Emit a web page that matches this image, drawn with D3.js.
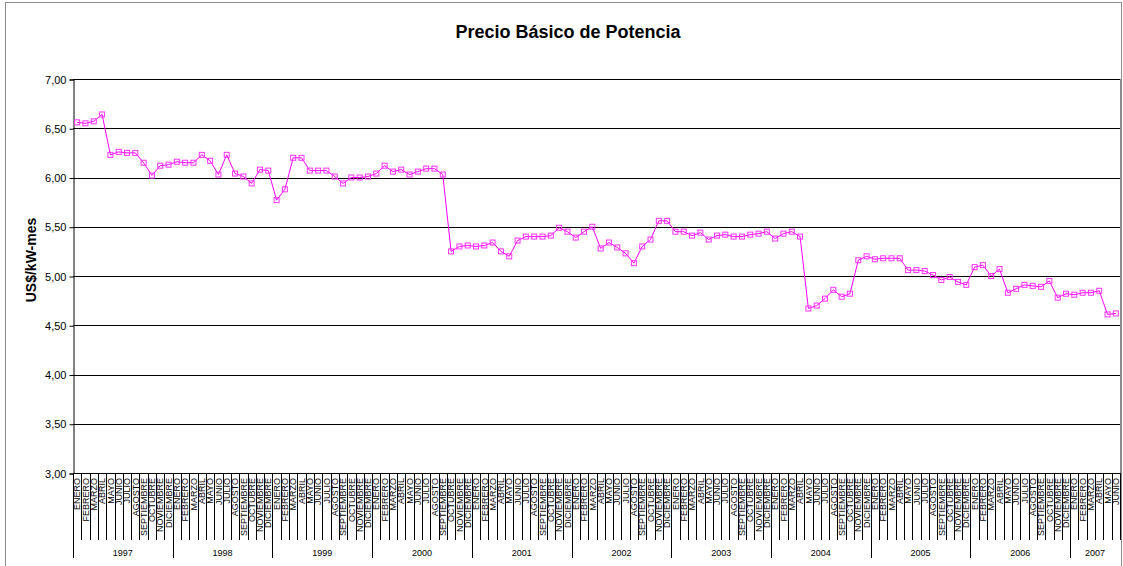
<!DOCTYPE html>
<html>
<head>
<meta charset="utf-8">
<script src="https://cdn.jsdelivr.net/npm/d3@7"></script>
<style>
  body { margin: 0; background: #fff; }
  text { font-family: "Liberation Sans", Arial, sans-serif; }
</style>
</head>
<body>
<script>
// months and years used for the two-level category axis
var meses = ["ENERO", "FEBRERO", "MARZO", "ABRIL", "MAYO", "JUNIO", "JULIO",
  "AGOSTO", "SEPTIEMBRE", "OCTUBRE", "NOVIEMBRE", "DICIEMBRE"];
var anios = [1997, 1998, 1999, 2000, 2001, 2002, 2003, 2004, 2005, 2006, 2007];

// monthly price, Enero 1997 .. Junio 2007
var precios = [
  6.56, 6.55, 6.57, 6.64, 6.23, 6.26, 6.25, 6.25, 6.15, 6.02, 6.12, 6.13,
  6.16, 6.15, 6.15, 6.23, 6.17, 6.03, 6.23, 6.04, 6.01, 5.94, 6.08, 6.07,
  5.77, 5.88, 6.20, 6.20, 6.07, 6.07, 6.07, 6.01, 5.94, 6.00, 6.00, 6.01,
  6.04, 6.12, 6.06, 6.08, 6.03, 6.06, 6.09, 6.09, 6.03, 5.25, 5.30, 5.31,
  5.30, 5.31, 5.34, 5.25, 5.20, 5.36, 5.40, 5.40, 5.40, 5.41, 5.49, 5.45,
  5.39, 5.45, 5.50, 5.28, 5.34, 5.29, 5.23, 5.13, 5.30, 5.37, 5.56, 5.56,
  5.45, 5.45, 5.41, 5.44, 5.37, 5.41, 5.42, 5.40, 5.40, 5.42, 5.43, 5.45,
  5.38, 5.43, 5.45, 5.40, 4.67, 4.70, 4.77, 4.86, 4.79, 4.82, 5.16, 5.20,
  5.17, 5.18, 5.18, 5.18, 5.06, 5.06, 5.05, 5.01, 4.96, 4.99, 4.94, 4.91,
  5.09, 5.11, 5.00, 5.07, 4.83, 4.87, 4.91, 4.90, 4.89, 4.95, 4.78, 4.82,
  4.81, 4.83, 4.83, 4.85, 4.61, 4.62
];

var yTicks = [3.0, 3.5, 4.0, 4.5, 5.0, 5.5, 6.0, 6.5, 7.0];

var w = 1123;
var h = 566;
var plotLeft = 73, plotRight = 1120, plotTop = 79, plotBottom = 473;

var datos = precios.map(function(v, i) {
  return { i: i, mes: meses[i % 12], anio: anios[Math.floor(i / 12)], valor: v };
});

var svg = d3.select("body").append("svg").attr("width", w).attr("height", h);

// chart border
svg.append("rect")
  .attr("x", 5.5).attr("y", 2.5)
  .attr("width", 1116).attr("height", 600)
  .attr("fill", "none").attr("stroke", "#8c8c8c");

var x = d3.scaleBand()
  .domain(d3.range(precios.length))
  .range([plotLeft, plotRight]);

var y = d3.scaleLinear()
  .domain([3, 7])
  .range([plotBottom, plotTop]);

var fmt = function(d) { return d3.format(".2f")(d).replace(".", ","); };

// plot area right edge
svg.append("line")
  .attr("x1", plotRight + 0.5).attr("x2", plotRight + 0.5)
  .attr("y1", plotTop).attr("y2", plotBottom)
  .attr("stroke", "#8c8c8c");

// gridlines
svg.append("g").selectAll("line")
  .data(yTicks)
  .enter().append("line")
  .attr("x1", plotLeft).attr("x2", plotRight)
  .attr("y1", function(d) { return Math.round(y(d)) + 0.5; })
  .attr("y2", function(d) { return Math.round(y(d)) + 0.5; })
  .attr("stroke", "#000");

// y axis
var yAxis = svg.append("g")
  .attr("transform", "translate(" + (plotLeft + 0.5) + ",0.5)")
  .call(d3.axisLeft(y).tickValues(yTicks).tickSize(4).tickPadding(3).tickFormat(fmt));
yAxis.select(".domain").attr("stroke", "#000");
yAxis.selectAll("text").attr("font-size", "11px").attr("fill", "#000")
  .style("font-family", "'Liberation Sans', Arial, sans-serif");

// category axis: month ticks, month labels, year separators, year labels
var xg = svg.append("g");

xg.selectAll(".tickMes")
  .data(d3.range(precios.length + 1))
  .enter().append("line")
  .attr("class", "tickMes")
  .attr("x1", function(i) { return Math.round(i < precios.length ? x(i) : plotRight) + 0.5; })
  .attr("x2", function(i) { return Math.round(i < precios.length ? x(i) : plotRight) + 0.5; })
  .attr("y1", plotBottom)
  .attr("y2", function(i) { return (i % 12 == 0) ? 558 : 540; })
  .attr("stroke", "#000");

xg.selectAll(".mes")
  .data(datos)
  .enter().append("text")
  .attr("class", "mes")
  .attr("transform", function(d) {
    return "translate(" + (x(d.i) + x.bandwidth() / 2 + 3.2) + "," + (plotBottom + 5) + ") rotate(-90)";
  })
  .attr("text-anchor", "end")
  .attr("font-size", "9px")
  .text(function(d) { return d.mes; });

var porAnio = d3.groups(datos, function(d) { return d.anio; });

xg.selectAll(".anio")
  .data(porAnio)
  .enter().append("text")
  .attr("class", "anio")
  .attr("x", function(g) {
    var a = g[1][0].i, b = g[1][g[1].length - 1].i;
    return (x(a) + x(b) + x.bandwidth()) / 2;
  })
  .attr("y", 556)
  .attr("text-anchor", "middle")
  .attr("font-size", "9px")
  .text(function(g) { return g[0]; });

// series line and markers
var linea = d3.line()
  .x(function(d) { return x(d.i) + x.bandwidth() / 2; })
  .y(function(d) { return y(d.valor); });

svg.append("path")
  .datum(datos)
  .attr("d", linea)
  .attr("fill", "none")
  .attr("stroke", "#ff00ff")
  .attr("stroke-width", 1);

svg.append("g").selectAll("rect")
  .data(datos)
  .enter().append("rect")
  .attr("x", function(d) { return x(d.i) + x.bandwidth() / 2 - 2.5; })
  .attr("y", function(d) { return y(d.valor) - 2.5; })
  .attr("width", 5).attr("height", 5)
  .attr("fill", "none")
  .attr("stroke", "#ff33ff")
  .attr("stroke-width", 1);

// title
svg.append("text")
  .attr("x", 568).attr("y", 38)
  .attr("text-anchor", "middle")
  .attr("font-size", "18px")
  .attr("font-weight", "bold")
  .text("Precio Básico de Potencia");

// y axis title
svg.append("text")
  .attr("transform", "translate(36,260) rotate(-90)")
  .attr("text-anchor", "middle")
  .attr("font-size", "14px")
  .attr("font-weight", "bold")
  .text("US$/kW-mes");
</script>
</body>
</html>
